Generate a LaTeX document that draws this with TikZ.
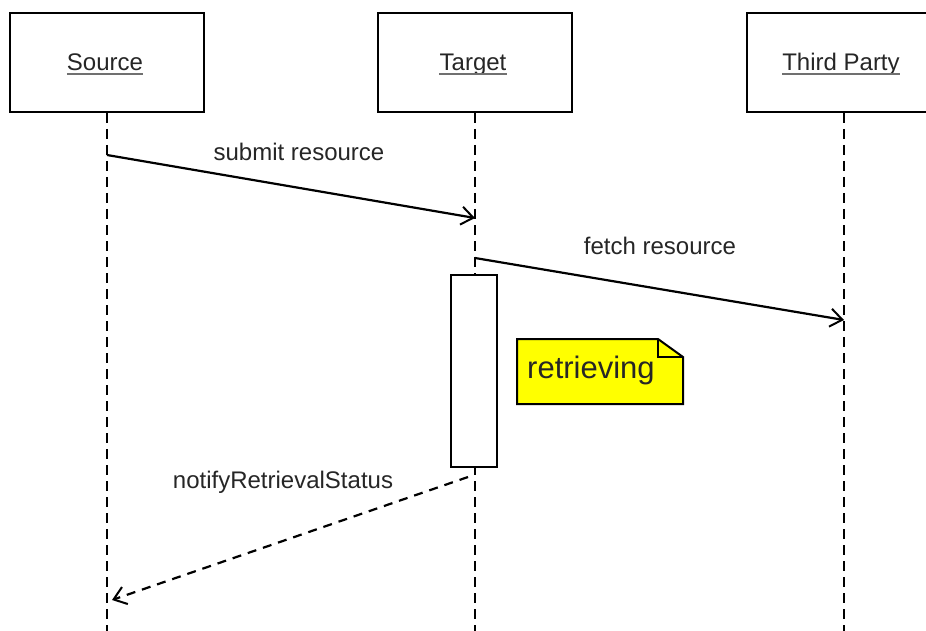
\documentclass[tikz,border=0pt]{standalone}
\usepackage{fontspec}
\setmainfont{Liberation Sans}
\usetikzlibrary{arrows.meta}
\definecolor{txt}{HTML}{262626}
\definecolor{uline}{HTML}{707070}
\definecolor{noteyellow}{HTML}{FFFF00}
\begin{document}
\begin{tikzpicture}[x=1pt,y=-1pt,
  font=\fontsize{24}{28}\selectfont,
  actorbox/.style={draw=black, line width=2pt, minimum width=194pt, minimum height=99pt, fill=white},
  hdr/.style={text=txt, inner sep=0pt, anchor=base},
  life/.style={line width=2.2pt, dash pattern=on 10pt off 6pt},
  msg/.style={line width=2.2pt, -{Straight Barb[length=12pt,width=18pt,line width=2pt]}},
  ret/.style={line width=2.2pt, dash pattern=on 9pt off 7pt, -{Straight Barb[length=12pt,width=18pt,line width=2pt]}},
  lbl/.style={text=txt, inner sep=0pt},
  actbox/.style={draw=black, line width=2pt, fill=white, minimum width=46pt, minimum height=192pt},
  notebox/.style={draw=black, line width=2pt, fill=noteyellow, line join=miter}
]
\useasboundingbox (0,0) rectangle (926,631);
\clip (0,0) rectangle (926,631);
\fill[white] (0,0) rectangle (926,631);

% actor boxes
\node[actorbox] (src) at (107,62.5) {};
\node[actorbox] (tgt) at (475,62.5) {};
\node[actorbox] (trd) at (844,62.5) {};

% header texts
\node[hdr] (srcT) at (105,71) {Source};
\node[hdr] (tgtT) at (473,71) {Target};
\node[hdr] (trdT) at (841,71) {Third Party};
\foreach \n in {srcT,tgtT,trdT}
  \draw[uline, line width=2pt] ([yshift=-3.5pt]\n.base west) -- ([yshift=-3.5pt]\n.base east);

% lifeline ends
\coordinate (srcEnd) at (107,631);
\coordinate (tgtEnd) at (475,631);
\coordinate (trdEnd) at (844,631);
\draw[life] (src.south) -- (srcEnd);
\draw[life] (tgt.south) -- (tgtEnd);
\draw[life] (trd.south) -- (trdEnd);

% message points
\coordinate (m1s) at (107,155);
\coordinate (m1e) at (475,218);
\coordinate (m2s) at (475,258);
\coordinate (m2e) at (844,320);
\coordinate (m3s) at (468,477);
\coordinate (m3e) at (112,600);

% activation
\node[actbox] (act) at (474,371) {};

% messages
\draw[msg] (m1s) -- (m1e);
\draw[msg] (m2s) -- (m2e);
\draw[ret] (m3s) -- (m3e);

% labels
\node[lbl] (l1) at (299,152) {submit resource};
\node[lbl] (l2) at (660,246) {fetch resource};
\node[lbl] (l3) at (283,482) {notifyRetrievalStatus};

% note
\draw[notebox] (517,339) -- (658,339) -- (683,357) -- (683,404) -- (517,404) -- cycle;
\draw[line width=2pt, line join=miter] (658,339) -- (658,357) -- (683,357);
\node[lbl, font=\fontsize{31}{36}\selectfont, anchor=west] (note) at (527,370) {retrieving};
\end{tikzpicture}
\end{document}
